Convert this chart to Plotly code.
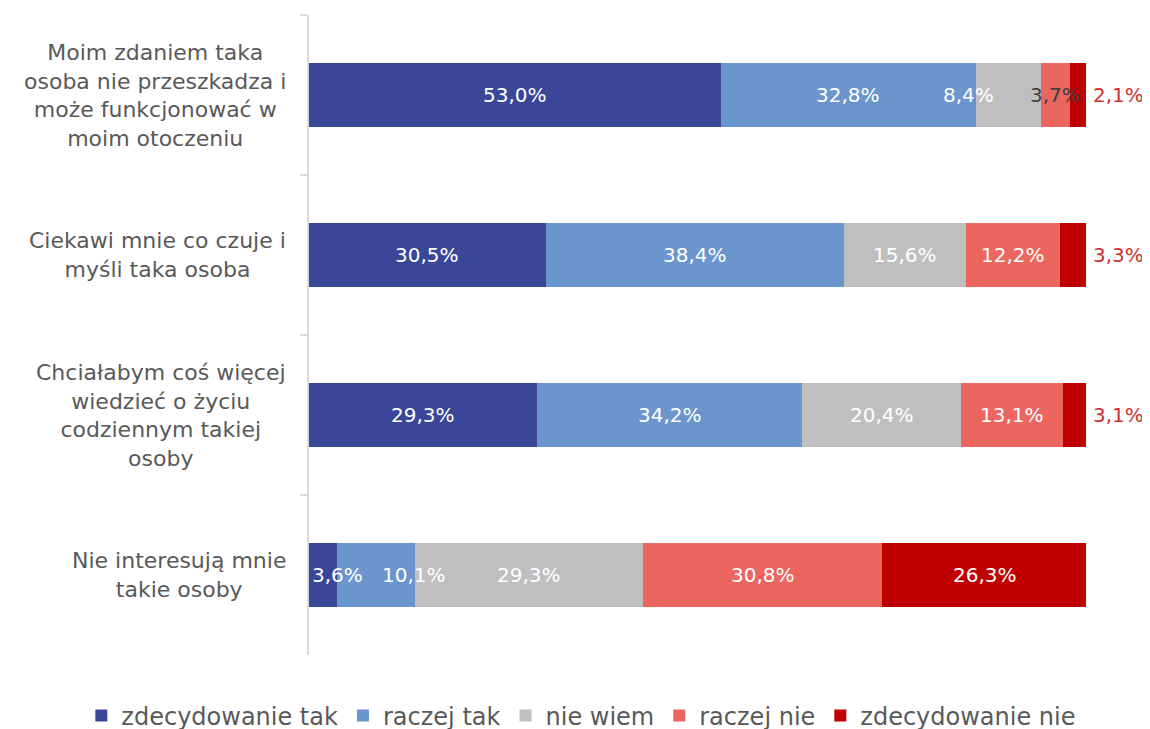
import plotly.graph_objects as go

# dane z wykresu (procenty)
categories = [
    "Moim zdaniem taka<br>osoba nie przeszkadza i<br>może funkcjonować w<br>moim otoczeniu",
    "Ciekawi mnie co czuje i<br>myśli taka osoba",
    "Chciałabym coś więcej<br>wiedzieć o życiu<br>codziennym takiej<br>osoby",
    "Nie interesują mnie<br>takie osoby",
]
series_names = ["zdecydowanie tak", "raczej tak", "nie wiem", "raczej nie", "zdecydowanie nie"]
zdecydowanie_tak = [53.0, 30.5, 29.3, 3.6]
raczej_tak = [32.8, 38.4, 34.2, 10.1]
nie_wiem = [8.4, 15.6, 20.4, 29.3]
raczej_nie = [3.7, 12.2, 13.1, 30.8]
zdecydowanie_nie = [2.1, 3.3, 3.1, 26.3]

series_values = [zdecydowanie_tak, raczej_tak, nie_wiem, raczej_nie, zdecydowanie_nie]
colors = ["#3A4799", "#6B95CD", "#BFBFBF", "#EA665E", "#C00000"]

FONT = "Century Gothic, DejaVu Sans, sans-serif"
GRAY = "#595959"

# przesunięcia etykiet (jak w Excelu, gdy się nie mieszczą)
label_shift = {(0, 2): -40, (3, 0): 15, (3, 1): 38}
label_color = {(0, 3): "#404040"}

fig = go.Figure()
for name, vals, col in zip(series_names, series_values, colors):
    fig.add_trace(go.Bar(
        y=categories, x=vals, name=name, orientation="h",
        marker=dict(color=col, line=dict(width=0)),
        hoverinfo="skip"))

# etykiety danych
annotations = []
for r, cat in enumerate(categories):
    cum = 0.0
    for s, vals in enumerate(series_values):
        v = vals[r]
        txt = f"{v:.1f}%".replace(".", ",")
        if s == len(series_values) - 1 and v < 5:
            annotations.append(dict(
                x=100, y=cat, xref="x", yref="y", text=txt, showarrow=False,
                xanchor="left", xshift=5,
                font=dict(family=FONT, size=20, color="#D0312D")))
        else:
            annotations.append(dict(
                x=cum + v / 2, y=cat, xref="x", yref="y", text=txt, showarrow=False,
                xanchor="center", xshift=label_shift.get((r, s), 0),
                font=dict(family=FONT, size=20, color=label_color.get((r, s), "white"))))
        cum += v

# opisy kategorii (wyśrodkowane wiersze)
for cat in categories:
    annotations.append(dict(
        x=0, y=cat, xref="paper", yref="y", text=cat, showarrow=False,
        xanchor="right", xshift=-21, align="center",
        font=dict(family=FONT, size=22, color=GRAY)))

# figura nieco wyższa niż okno, żeby legenda nie ściskała wykresu
fig.update_layout(
    barmode="stack",
    bargap=0.6,
    width=1150, height=745,
    margin=dict(l=301, r=72, t=7, b=98),
    plot_bgcolor="white", paper_bgcolor="white",
    xaxis=dict(range=[0, 100], visible=False, fixedrange=True),
    yaxis=dict(
        categoryorder="array", categoryarray=categories, autorange="reversed",
        showticklabels=False, showline=True, linecolor="#D9D9D9", linewidth=1.5,
        ticks="outside", tickson="boundaries", ticklen=7, tickcolor="#D9D9D9",
        tickwidth=1.5, showgrid=False, zeroline=False),
    legend=dict(
        orientation="h", xref="paper", yref="paper",
        x=-0.293, xanchor="left", y=-0.0953, yanchor="middle",
        font=dict(family=FONT, size=24, color=GRAY),
        itemwidth=30, traceorder="normal"),
    annotations=annotations,
    showlegend=True,
)

fig.write_html("out.html")
